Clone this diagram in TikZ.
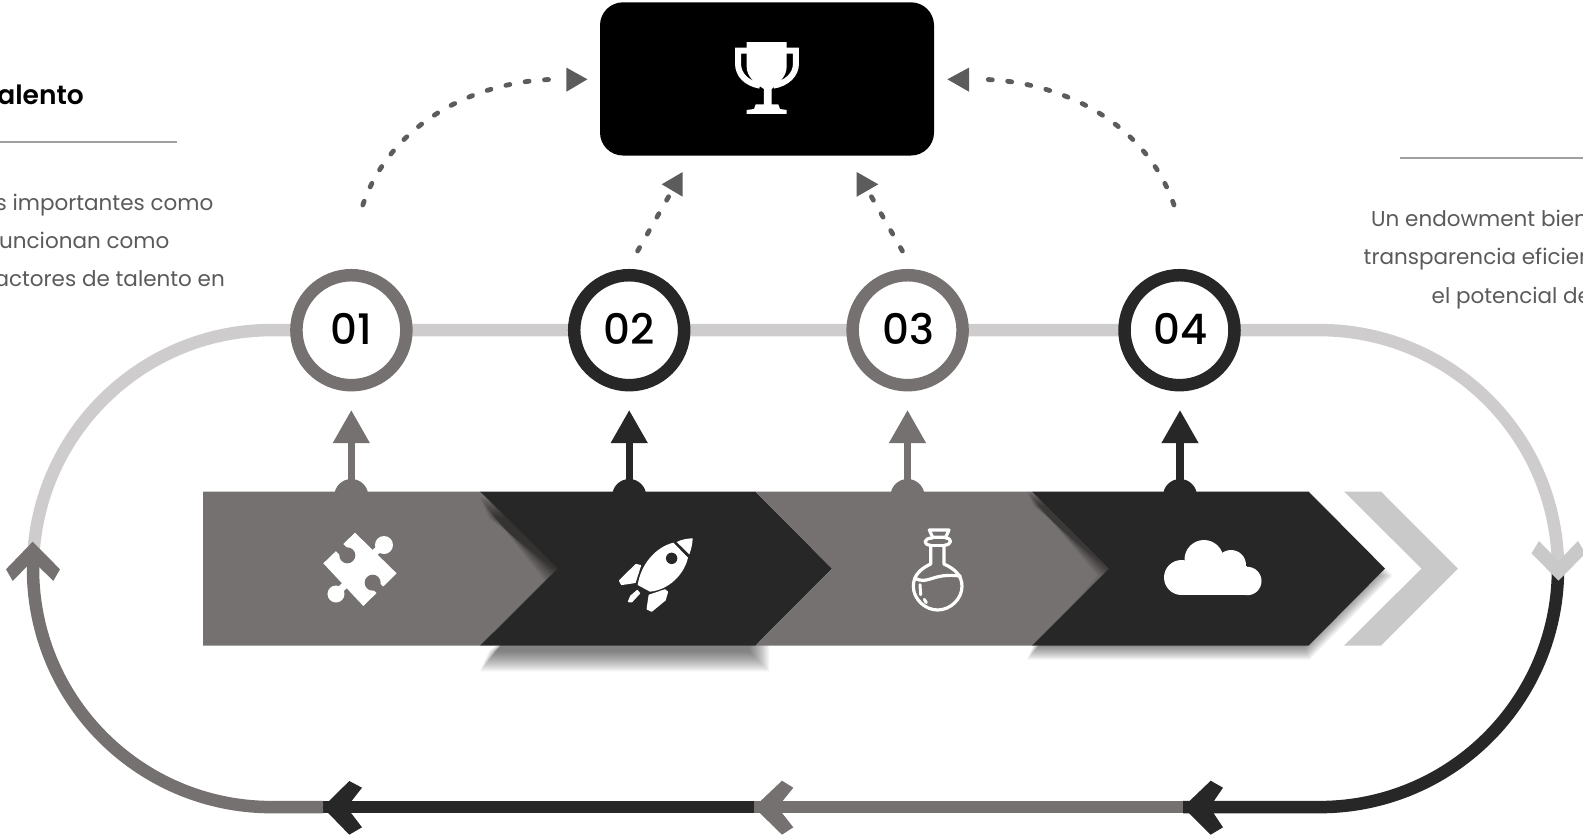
\documentclass[tikz,border=0pt]{standalone}
\usepackage{fontspec}
\setmainfont{Poppins}
\newfontfamily\semib{Poppins SemiBold}
\newfontfamily\medi{Poppins Medium}
\usetikzlibrary{arrows.meta}
\definecolor{cgray}{HTML}{757170}
\definecolor{cdark}{HTML}{272727}
\definecolor{clight}{HTML}{CECCCC}
\definecolor{cchev}{HTML}{C9C9C9}
\definecolor{cdash}{HTML}{5C5C5C}
\definecolor{ctext}{HTML}{5A5A5A}
\definecolor{crule}{HTML}{A0A0A0}
\tikzset{
  track/.style={line width=12.5pt},
  dotline/.style={draw=cdash,line width=4.8pt,line cap=round,dash pattern=on 4pt off 15.5pt},
  stemarrow/.style={line width=7.3pt,-{Triangle[length=33pt,width=35pt]}},
  numring/.style={circle,fill=white,line width=12.5pt,minimum size=110pt,inner sep=0pt,text=black},
  numtext/.style={font=\medi\fontsize{42}{42}\selectfont,text=black,inner sep=0pt},
  bodytext/.style={text=ctext,font=\fontsize{21.5}{24}\selectfont,inner sep=0pt},
  rulel/.style={draw=crule,line width=1.5pt}
}
\newcommand{\chevpath}[6]{%
  (#1,#5) -- (#3,#5) -- (#4,{(#5+#6)/2}) -- (#3,#6) -- (#1,#6) -- (#2,{(#5+#6)/2}) -- cycle}
\newcommand{\chevshadow}[4]{%
  \foreach \d in {-#3,...,#3}{
    \fill[black,opacity=#4]
      ({\sxl+#1-0.414*\d},{491.5+#2-\d}) -- ({\sxr+#1+0.414*\d},{491.5+#2-\d})
      -- ({\stp+#1+1.414*\d},{568.6+#2}) -- ({\sxr+#1+0.414*\d},{645.7+#2+\d})
      -- ({\sxl+#1-0.414*\d},{645.7+#2+\d}) -- ({\snt+#1-1.414*\d},{568.6+#2}) -- cycle;
  }}
\newcommand{\flatshadow}[4]{%
  \foreach \d in {-#3,...,#3}{
    \fill[black,opacity=#4]
      ({\sxl+#1-0.414*\d},{491.5+#2-\d}) -- ({\sxr+#1+\d},{491.5+#2-\d})
      -- ({\sxr+#1+\d},{645.7+#2+\d})
      -- ({\sxl+#1-0.414*\d},{645.7+#2+\d}) -- ({\snt+#1-1.414*\d},{568.6+#2}) -- cycle;
  }}
\begin{document}
\begin{tikzpicture}[x=1pt,y=-1pt]
\useasboundingbox (0,0) rectangle (1583,839);
\clip (0,0) rectangle (1583,839);

% ---- track coordinates
\coordinate (tA) at (271.5,330.1);
\coordinate (tB) at (1319.5,330.1);
\coordinate (tR) at (1558,568.6);
\coordinate (tC) at (1319.5,807.1);
\coordinate (tD) at (271.5,807.1);
\coordinate (tL) at (33,568.6);
\coordinate (m1) at (1183,807.1);
\coordinate (m2) at (754,807.1);
\coordinate (m3) at (323,807.1);
\coordinate (tLu) at (33,552);

% ---- track
\draw[track,clight] (tL) .. controls (33,436.9) and (139.8,330.1) .. (tA) -- (tB)
   .. controls (1451.2,330.1) and (1558,436.9) .. (tR);
\draw[track,cdark] (tR) .. controls (1558,700.3) and (1451.2,807.1) .. (tC) -- (m1);
\draw[track,cgray] (m1) -- (m2);
\draw[track,cdark] (m2) -- (m3);
\draw[track,cgray] (m3) -- (tD) .. controls (139.8,807.1) and (33,700.3) .. (tL) -- (tLu);

% track chevrons
\fill[cgray] (32.7,541.7) -- (60,569.3) -- (53.3,581) -- (32.7,560.5) -- (12.7,581) -- (6,569.3) -- cycle;
\fill[cchev] (1558.5,580.7) -- (1531.5,553.3) -- (1539,541) -- (1558.5,561) -- (1578,541) -- (1585.5,553.3) -- cycle;
\fill[cdark] (322.7,807.3) -- (349.3,781) -- (362,787.7) -- (346.7,807.3) -- (362,827.3) -- (349.3,834.7) -- cycle;
\fill[cgray] (754,807.3) -- (782,780.7) -- (793.3,787.7) -- (777.5,807.3) -- (793.3,827.3) -- (782,834.7) -- cycle;
\fill[cdark] (1183,807.3) -- (1210.7,780.7) -- (1223,787.7) -- (1209.6,807.3) -- (1223,827.3) -- (1210.7,834.7) -- cycle;

% ---- band of chevrons
\fill[cgray] (203,491.5) -- (480,491.5) -- (557.3,568.6) -- (480,645.7) -- (203,645.7) -- cycle;
\def\sxl{480}\def\snt{557.3}\def\sxr{755.3}\def\stp{832}
\flatshadow{4}{16}{10}{.033}
\fill[cdark] \chevpath{480}{557.3}{755.3}{832}{491.5}{645.7};
\fill[cgray] \chevpath{755.3}{832}{1032}{1109}{491.5}{645.7};
\def\sxl{1032}\def\snt{1109}\def\sxr{1308.5}\def\stp{1385}
\chevshadow{-2}{7}{7}{.04}
\fill[cdark] \chevpath{1032}{1109}{1308.5}{1385}{491.5}{645.7};
\fill[cchev] \chevpath{1344}{1421.5}{1381}{1458}{491.5}{645.7};

% bumps and stems
\fill[cgray] (351.3,496) circle (17);
\fill[cdark] (629.2,496) circle (17);
\fill[cgray] (907.5,496) circle (17);
\fill[cdark] (1180,496) circle (17);
\coordinate (s1) at (351.3,482);
\coordinate (s2) at (629.2,482);
\coordinate (s3) at (907.5,482);
\coordinate (s4) at (1180,482);
\coordinate (e1) at (351.3,410);
\coordinate (e2) at (629.2,410);
\coordinate (e3) at (907.5,410);
\coordinate (e4) at (1180,410);
\draw[stemarrow,draw=cgray,fill=cgray] (s1) -- (e1);
\draw[stemarrow,draw=cdark,fill=cdark] (s2) -- (e2);
\draw[stemarrow,draw=cgray,fill=cgray] (s3) -- (e3);
\draw[stemarrow,draw=cdark,fill=cdark] (s4) -- (e4);

% ---- numbered circles
\node[numring,draw=cgray] (n1) at (351.4,330.2) {};
\node[numring,draw=cdark] (n2) at (629.2,330.2) {};
\node[numring,draw=cgray] (n3) at (907.6,330.2) {};
\node[numring,draw=cdark] (n4) at (1179.5,330.2) {};
\node[numtext] (t1) at (351.4,329) {01};
\node[numtext] (t2) at (629.2,329) {02};
\node[numtext] (t3) at (908.3,329) {03};
\node[numtext] (t4) at (1180.5,329) {04};

% ---- goal box
\node[fill=black,rounded corners=23pt,minimum width=334pt,minimum height=153.2pt,inner sep=0pt] (goal) at (767,78.9) {};

% trophy
\begin{scope}[shift={(690,20)},x=.3333pt,y=-.3333pt]
  \fill[white] (170,66) -- (290,66) -- (290,140) .. controls (290,170) and (265,190) .. (245,207)
     -- (245,253) -- (265,253) -- (270,267) -- (290,270) -- (290,282) -- (170,282) -- (170,270) -- (192,267) -- (197,253)
     -- (222,253) -- (222,207) .. controls (195,190) and (170,170) .. (170,140) -- cycle;
  \draw[white,line width=6pt] (172,92) -- (144,92) -- (144,130) .. controls (144,165) and (170,190) .. (210,197);
  \draw[white,line width=6pt] (288,92) -- (318,92) -- (318,130) .. controls (318,165) and (290,190) .. (250,197);
\end{scope}

% ---- dashed connectors
\coordinate (a1) at (362.8,205);
\coordinate (a1e) at (559,79.3);
\coordinate (a4) at (1174,205);
\coordinate (a4e) at (977,79.3);
\draw[dotline] (a1) .. controls (392,120) and (480,79.3) .. (a1e);
\draw[dotline] (a4) .. controls (1144.8,120) and (1056.8,79.3) .. (a4e);
\fill[cdash] (587.4,79.3) -- (566.4,67.6) -- (566.4,91.7) -- cycle;
\fill[cdash] (947.4,79.3) -- (969,67.6) -- (969,91.7) -- cycle;
\coordinate (a2) at (637.6,251);
\coordinate (a2e) at (669,196);
\coordinate (a3) at (902.4,251);
\coordinate (a3e) at (871,196);
\draw[dotline] (a2) -- (a2e);
\draw[dotline] (a3) -- (a3e);
\fill[cdash] (661.7,184.3) -- (682.7,172) -- (682.7,196.7) -- cycle;
\fill[cdash] (878.3,184.3) -- (856.7,172) -- (856.7,196.7) -- cycle;

% ---- icons
% puzzle
\begin{scope}[shift={(300,520)},x=.3333pt,y=-.3333pt]
  \fill[white] (165,38) -- (290,160) -- (190,258) -- (70,130) -- cycle;
  \draw[white,line width=7pt] (215,105) -- (252,75);
  \fill[white] (252,75) circle[radius=9pt];
  \draw[white,line width=7pt] (140,190) -- (108,222);
  \fill[white] (108,222) circle[radius=8.5pt];
  \fill[cgray] (142,106) circle[radius=8pt];
  \draw[cgray,line width=10pt] (142,106) -- (108,72);
  \fill[cgray] (218,188) circle[radius=8pt];
  \draw[cgray,line width=9pt] (218,188) -- (252,222);
\end{scope}
% rocket
\begin{scope}[shift={(600,520)},x=.3333pt,y=-.3333pt]
  \fill[white] (220,68) .. controls (165,82) and (122,135) .. (113,195) -- (150,215) .. controls (205,210) and (252,165) .. (264,113) -- cycle;
  \fill[cdark] (215,115) circle[radius=5.7pt];
  \fill[white] (230,66) .. controls (245,58) and (265,55) .. (278,55) .. controls (278,70) and (273,90) .. (268,103) -- cycle;
  \fill[white,draw=white,line width=1.5pt,line join=round] (108,134) -- (121,137) -- (105,187) -- (65,193) -- (59,182) -- cycle;
  \fill[white,draw=white,line width=1.5pt,line join=round] (195,210) -- (202,216) -- (195,240) -- (155,273) -- (142,267) -- (148,226) -- cycle;
  \fill[white,draw=white,line width=1pt,line join=round] (112,211) -- (119,220) -- (95,246) -- (85,245) -- (92,228) -- cycle;
\end{scope}
% flask
\begin{scope}[shift={(890,520)},x=.3333pt,y=-.3333pt]
  \draw[white,line width=3.2pt,line join=round,line cap=round]
    (118,30) -- (177,30) -- (167,52) -- (128,52) -- cycle;
  \draw[white,line width=3.2pt,line join=round,line cap=round]
    (128,54) .. controls (100,54) and (98,74) .. (122,76) -- (122,132) .. controls (90,147) and (70,167) .. (70,199)
    .. controls (70,237) and (105,270) .. (143,270) .. controls (181,270) and (216,237) .. (216,199)
    .. controls (216,167) and (195,147) .. (162,132) -- (162,76) .. controls (188,74) and (186,54) .. (167,54);
  \draw[white,line width=3.2pt] (122,76) -- (162,76);
  \draw[white,line width=3.2pt,line cap=round] (74,174) .. controls (115,197) and (125,157) .. (211,168);
  \draw[white,line width=3pt,line cap=round] (90,194) -- (92,224);
  \draw[white,line width=3pt,line cap=round] (103,238) -- (109,248);
\end{scope}
% cloud
\fill[white] (1181.5,577.5) circle (17.5);
\fill[white] (1204,559.5) circle (19.5);
\fill[white] (1231,565) circle (15);
\fill[white] (1247.3,581) circle (14.2);
\fill[white] (1181.5,566) rectangle (1247.3,595);

% ---- side text
\node[font=\semib\fontsize{26.5}{28}\selectfont,text=black,anchor=base east,inner sep=0pt] (hl) at (84,104.3) {alento};
\coordinate (rl0) at (0,142.2);
\coordinate (rl1) at (177,142.2);
\draw[rulel] (rl0) -- (rl1);
\node[bodytext,anchor=base east] (l1) at (213.5,210) {s importantes como};
\node[bodytext,anchor=base east] (l2) at (169.5,248) {uncionan como};
\node[bodytext,anchor=base east] (l3) at (225,286) {actores de talento en};
\coordinate (rr0) at (1400,158.2);
\coordinate (rr1) at (1583,158.2);
\draw[rulel] (rr0) -- (rr1);
\node[bodytext,anchor=base west] (r1) at (1371,226.5) {Un endowment bien};
\node[bodytext,anchor=base west] (r2) at (1363.5,264.5) {transparencia eficien};
\node[bodytext,anchor=base west] (r3) at (1431.5,303) {el potencial de};
\end{tikzpicture}
\end{document}
